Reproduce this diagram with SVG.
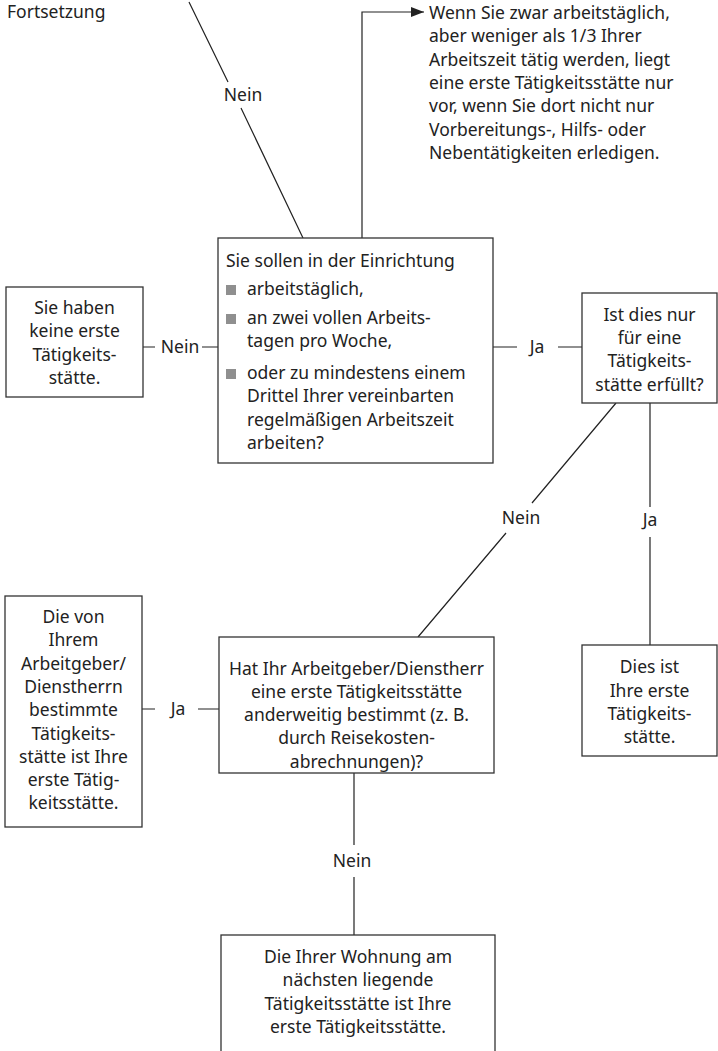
<svg xmlns="http://www.w3.org/2000/svg" width="718" height="1051" viewBox="0 0 718 1051">
<defs>
<style>
.box{fill:#fff;stroke:#333;stroke-width:1.3}
.t{font-family:"Noto Sans","Open Sans",sans-serif;font-size:17.5px;fill:#222}
.c{text-anchor:middle}
.ln{stroke:#222;stroke-width:1.2;fill:none}
.bul{fill:#8f8f8f}
</style>
<marker id="arr" markerUnits="userSpaceOnUse" markerWidth="13" markerHeight="10" refX="13" refY="5" orient="auto">
<path d="M0,0 L13,5 L0,10 z" fill="#222"/>
</marker>
</defs>
<rect width="718" height="1051" fill="#fff"/>

<g id="connectors">
<path class="ln" d="M189,2 L228,82 M241,108 L303,238"/>
<text class="t c" x="243" y="101">Nein</text>
<path class="ln" d="M362,238 V12 H424" marker-end="url(#arr)"/>
<path class="ln" d="M143,347 H155 M202,347 H218"/>
<text class="t c" x="180" y="352.5">Nein</text>
<path class="ln" d="M493,347 H517 M558,347 H582"/>
<text class="t c" x="537" y="352.5">Ja</text>
<path class="ln" d="M616,403 L532,503 M506,533 L418,637"/>
<text class="t c" x="521" y="524">Nein</text>
<path class="ln" d="M650,403 V507 M650,537 V645"/>
<text class="t c" x="650" y="526">Ja</text>
<path class="ln" d="M142,709 H155 M198,709 H219"/>
<text class="t c" x="178" y="715">Ja</text>
<path class="ln" d="M354,773 V845 M354,877 V935"/>
<text class="t c" x="352" y="867">Nein</text>
</g>

<g id="fortsetzung">
<text class="t" x="7" y="18">Fortsetzung</text>
</g>

<g id="hinweis">
<text class="t" x="429" y="19">Wenn Sie zwar arbeitstäglich,</text>
<text class="t" x="429" y="42.3">aber weniger als 1/3 Ihrer</text>
<text class="t" x="429" y="65.6">Arbeitszeit tätig werden, liegt</text>
<text class="t" x="429" y="88.9">eine erste Tätigkeitsstätte nur</text>
<text class="t" x="429" y="112.2">vor, wenn Sie dort nicht nur</text>
<text class="t" x="429" y="135.5">Vorbereitungs-, Hilfs- oder</text>
<text class="t" x="429" y="158.8">Nebentätigkeiten erledigen.</text>
</g>

<g id="frage1">
<rect class="box" x="218" y="238" width="275" height="225"/>
<text class="t" x="226" y="267">Sie sollen in der Einrichtung</text>
<rect class="bul" x="226" y="285" width="10" height="10"/>
<text class="t" x="247" y="295">arbeitstäglich,</text>
<rect class="bul" x="226" y="314" width="10" height="10"/>
<text class="t" x="247" y="324">an zwei vollen Arbeits-</text>
<text class="t" x="247" y="347.3">tagen pro Woche,</text>
<rect class="bul" x="226" y="369" width="10" height="10"/>
<text class="t" x="247" y="379">oder zu mindestens einem</text>
<text class="t" x="247" y="402.3">Drittel Ihrer vereinbarten</text>
<text class="t" x="247" y="425.6">regelmäßigen Arbeitszeit</text>
<text class="t" x="247" y="448.9">arbeiten?</text>
</g>

<g id="keine">
<rect class="box" x="6" y="287" width="137" height="110"/>
<text class="t c" x="74.5" y="314">Sie haben</text>
<text class="t c" x="74.5" y="337.3">keine erste</text>
<text class="t c" x="74.5" y="360.6">Tätigkeits-</text>
<text class="t c" x="74.5" y="383.9">stätte.</text>
</g>

<g id="frage2">
<rect class="box" x="582" y="293" width="135" height="110"/>
<text class="t c" x="649.5" y="320.7">Ist dies nur</text>
<text class="t c" x="649.5" y="344">für eine</text>
<text class="t c" x="649.5" y="367.3">Tätigkeits-</text>
<text class="t c" x="649.5" y="390.6">stätte erfüllt?</text>
</g>

<g id="dies">
<rect class="box" x="582" y="645" width="135" height="111"/>
<text class="t c" x="649.5" y="673.3">Dies ist</text>
<text class="t c" x="649.5" y="696.6">Ihre erste</text>
<text class="t c" x="649.5" y="719.9">Tätigkeits-</text>
<text class="t c" x="649.5" y="743.2">stätte.</text>
</g>

<g id="frage3">
<rect class="box" x="219" y="637" width="275" height="136"/>
<text class="t c" x="356.5" y="674.5">Hat Ihr Arbeitgeber/Dienstherr</text>
<text class="t c" x="356.5" y="697.8">eine erste Tätigkeitsstätte</text>
<text class="t c" x="356.5" y="721.1">anderweitig bestimmt (z. B.</text>
<text class="t c" x="356.5" y="744.4">durch Reisekosten-</text>
<text class="t c" x="356.5" y="767.7">abrechnungen)?</text>
</g>

<g id="bestimmt">
<rect class="box" x="5" y="596" width="137" height="231"/>
<text class="t c" x="73.5" y="623">Die von</text>
<text class="t c" x="73.5" y="646.3">Ihrem</text>
<text class="t c" x="73.5" y="669.6">Arbeitgeber/</text>
<text class="t c" x="73.5" y="692.9">Dienstherrn</text>
<text class="t c" x="73.5" y="716.2">bestimmte</text>
<text class="t c" x="73.5" y="739.5">Tätigkeits-</text>
<text class="t c" x="73.5" y="762.8">stätte ist Ihre</text>
<text class="t c" x="73.5" y="786.1">erste Tätig-</text>
<text class="t c" x="73.5" y="809.4">keitsstätte.</text>
</g>

<g id="naechste">
<rect class="box" x="221" y="935" width="274" height="140"/>
<text class="t c" x="358" y="963">Die Ihrer Wohnung am</text>
<text class="t c" x="358" y="986.3">nächsten liegende</text>
<text class="t c" x="358" y="1009.6">Tätigkeitsstätte ist Ihre</text>
<text class="t c" x="358" y="1032.9">erste Tätigkeitsstätte.</text>
</g>
</svg>
